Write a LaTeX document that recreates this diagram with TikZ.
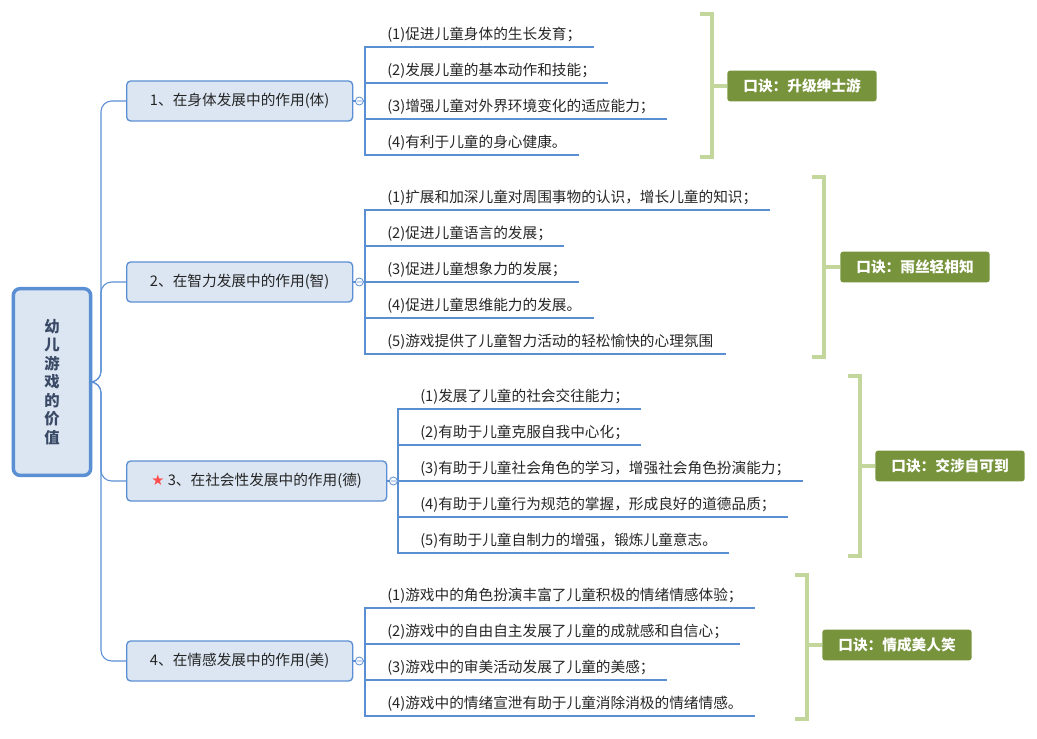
\documentclass[tikz,border=0pt]{standalone}
\usepackage{fontspec}
\setmainfont{Noto Sans CJK SC}
\newfontfamily\symfont{DejaVu Sans}
\usetikzlibrary{calc}
\definecolor{boxfill}{HTML}{DCE6F2}
\definecolor{boxline}{HTML}{5B8FD4}
\definecolor{rootink}{HTML}{3A4A66}
\definecolor{kjfill}{HTML}{77933C}
\definecolor{kjline}{HTML}{C3D69B}
\begin{document}
\begin{tikzpicture}[x=0.75pt,y=-0.75pt,
    every node/.style={font=\fontsize{11}{13}\selectfont},
    rootbox/.style={draw=boxline, line width=2.6pt, fill=boxfill, rounded corners=5pt,
      minimum width=58pt, minimum height=140pt, text=rootink, font=\fontsize{11.5}{17}\selectfont\bfseries},
    topic/.style={draw=boxline, line width=1pt, fill=boxfill, rounded corners=3pt,
      minimum height=30pt, anchor=west, text=black!85},
    leaf/.style={anchor=south west, inner xsep=9pt, inner ysep=3pt, text=black!85},
    uline/.style={boxline, line width=2pt},
    link/.style={boxline, line width=0.8pt},
    fold/.style={boxline, line width=0.6pt, fill=white},
    brace/.style={kjline, line width=3pt},
    koujue/.style={fill=kjfill, text=white, rounded corners=2pt, minimum width=112pt,
      minimum height=23pt, font=\fontsize{11}{13}\selectfont\bfseries\itshape}]
\useasboundingbox (0,0) rectangle (1037,738);

% root
\node[rootbox] (root) at (52,382) {\shortstack{幼\\儿\\游\\戏\\的\\价\\值}};

% main topics
\node[topic, minimum width=169.5pt] (b1) at (126,101) {1、在身体发展中的作用(体)};
\node[topic, minimum width=169.5pt] (b2) at (126,282) {2、在智力发展中的作用(智)};
\node[topic, minimum width=195pt] (b3) at (126,481) {{\symfont\color{red!70}★} 3、在社会性发展中的作用(德)};
\node[topic, minimum width=169.5pt] (b4) at (126,661) {4、在情感发展中的作用(美)};

\foreach \b in {b1,b2,b3,b4}
  \draw[link, rounded corners=8pt] (root.east) -- (101,382) |- (\b.west);

% leaves
\foreach \t [count=\i] in {(1)促进儿童身体的生长发育；,(2)发展儿童的基本动作和技能；,
    (3)增强儿童对外界环境变化的适应能力；,(4)有利于儿童的身心健康。}
  \node[leaf] (l1\i) at (375,{11+36*\i}) {\t};
\foreach \t [count=\i] in {(1)扩展和加深儿童对周围事物的认识，增长儿童的知识；,(2)促进儿童语言的发展；,
    (3)促进儿童想象力的发展；,(4)促进儿童思维能力的发展。,(5)游戏提供了儿童智力活动的轻松愉快的心理氛围}
  \node[leaf] (l2\i) at (375,{174+36*\i}) {\t};
\foreach \t [count=\i] in {(1)发展了儿童的社会交往能力；,(2)有助于儿童克服自我中心化；,
    (3)有助于儿童社会角色的学习，增强社会角色扮演能力；,(4)有助于儿童行为规范的掌握，形成良好的道德品质；,
    (5)有助于儿童自制力的增强，锻炼儿童意志。}
  \node[leaf] (l3\i) at (408,{373+36*\i}) {\t};
\foreach \t [count=\i] in {(1)游戏中的角色扮演丰富了儿童积极的情绪情感体验；,(2)游戏中的自由自主发展了儿童的成就感和自信心；,
    (3)游戏中的审美活动发展了儿童的美感；,(4)游戏中的情绪宣泄有助于儿童消除消极的情绪情感。}
  \node[leaf] (l4\i) at (375,{572+36*\i}) {\t};

% underlines and brackets
\foreach \b/\n in {1/4,2/5,3/5,4/4} {
  \foreach \i in {1,...,\n}
    \draw[uline] (l\b\i.south west) -- (l\b\i.south east);
  \draw[link] (l\b1.south west) -- ++(-10,0) |- (l\b\n.south west);
  \foreach \i in {2,...,\n}
    \draw[link] (l\b\i.south west) -- ++(-10,0);
  \draw[link] (b\b.east) -- ($(b\b.east -| l\b1.south west)+(-10,0)$);
  \draw[fold] ($(b\b.east)+(6,0)$) circle (4) +(-2.5,0) -- +(2.5,0);
}

% mnemonics
\node[koujue] (k1) at (802,86) {口诀：升级绅士游};
\node[koujue] (k2) at (915,267) {口诀：雨丝轻相知};
\node[koujue] (k3) at (950,466) {口诀：交涉自可到};
\node[koujue] (k4) at (897,645) {口诀：情成美人笑};
\draw[brace] (700,14) -| (712,157) -- (700,157);
\draw[brace] (812,177) -| (824,357) -- (812,357);
\draw[brace] (848,376) -| (860,556) -- (848,556);
\draw[brace] (795,575) -| (807,719) -- (795,719);
\draw[brace] (k1.west) -- ++(-15,0);
\draw[brace] (k2.west) -- ++(-16,0);
\draw[brace] (k3.west) -- ++(-16,0);
\draw[brace] (k4.west) -- ++(-16,0);
\end{tikzpicture}
\end{document}
